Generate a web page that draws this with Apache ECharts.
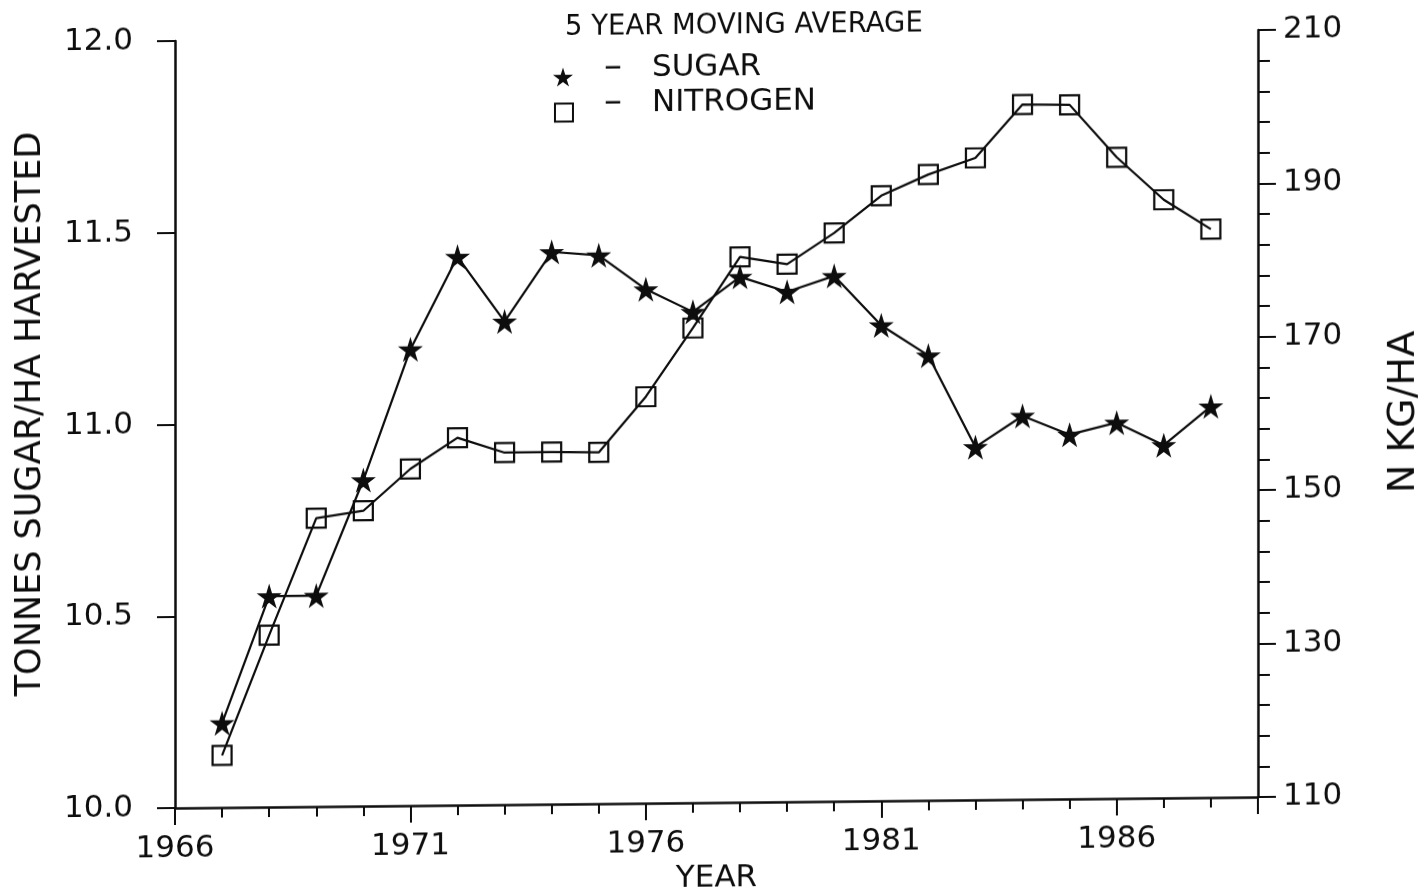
<!DOCTYPE html>
<html>

<head>
  <meta charset="utf-8">
  <title>5 year moving average</title>
  <script src="https://cdn.jsdelivr.net/npm/echarts@6/dist/echarts.min.js"></script>
  <style>
    body { margin: 0; background: #fff; }
    /* the scanned figure is slightly sheared, right side higher */
    #main { width: 1428px; height: 893px; transform: skewY(-0.58deg); transform-origin: 175px 808px; }
  </style>
</head>

<body>
  <div id="main"></div>
  <script type="text/javascript">
    var years = [1967, 1968, 1969, 1970, 1971, 1972, 1973, 1974, 1975, 1976, 1977,
      1978, 1979, 1980, 1981, 1982, 1983, 1984, 1985, 1986, 1987, 1988];
    // tonnes sugar / ha harvested
    var sugar = [10.22, 10.55, 10.55, 10.85, 11.19, 11.43, 11.26, 11.44, 11.43, 11.34, 11.28,
      11.37, 11.33, 11.37, 11.24, 11.16, 10.92, 11.00, 10.95, 10.98, 10.92, 11.02];
    // N kg / ha
    var nitrogen = [116.8, 132.4, 147.6, 148.5, 153.9, 157.9, 155.9, 155.9, 155.8, 163.0, 171.9,
      181.1, 180.1, 184.1, 188.9, 191.6, 193.7, 200.6, 200.5, 193.6, 188.0, 184.1];
    var sugarTicks = [10.0, 10.5, 11.0, 11.5, 12.0];
    var nitrogenTicks = [110, 130, 150, 170, 190, 210];
    var yearTicks = [1966, 1971, 1976, 1981, 1986];

    var ink = '#0d0d0d';
    var font = 'DejaVu Sans';
    var star = 'path://M50,0 L61,35 L98,35 L68,57 L79,91 L50,70 L21,91 L32,57 L2,35 L39,35 Z';

    function pairs(ys) {
      return years.map(function (y, i) { return [y, ys[i]]; });
    }

    // legend text sits a bit above its marker, like the original key
    var legendRich = {
      d: { fontFamily: font, fontSize: 36, color: ink, padding: [0, 30, 17, 26] },
      t: { fontFamily: font, fontSize: 31, color: ink, padding: [0, 0, 17, 0] }
    };

    var myChart = echarts.init(document.getElementById('main'));

    var option = {
      animation: false,
      backgroundColor: '#fff',
      textStyle: { fontFamily: font, color: ink },
      title: {
        text: '5 YEAR MOVING AVERAGE',
        left: 565,
        top: 18,
        padding: 0,
        textStyle: { fontFamily: font, fontSize: 27.5, fontWeight: 'normal', color: ink }
      },
      legend: [
        {
          data: [{ name: 'SUGAR', icon: star }],
          left: 553, top: 54.5, padding: 0,
          itemWidth: 20, itemHeight: 20,
          formatter: function (n) { return '{d|\u2013}{t|' + n + '}'; },
          textStyle: { rich: legendRich }
        },
        {
          data: [{ name: 'NITROGEN', icon: 'rect', itemStyle: { color: 'transparent', borderColor: ink, borderWidth: 2 } }],
          left: 554, top: 90, padding: 0,
          itemWidth: 18, itemHeight: 18,
          formatter: function (n) { return '{d|\u2013}{t|' + n + '}'; },
          textStyle: { rich: legendRich }
        }
      ],
      grid: { left: 175, right: 170, top: 41, bottom: 85, containLabel: false, outerBoundsMode: 'none' },
      xAxis: [
        {
          type: 'value', min: 1966, max: 1989, interval: 1,
          name: 'YEAR', nameLocation: 'middle', nameGap: 50,
          nameTextStyle: { fontFamily: font, fontSize: 31, color: ink },
          axisLine: { lineStyle: { color: ink, width: 2.5 } },
          axisTick: { length: 10, lineStyle: { color: ink, width: 2 } },
          axisLabel: {
            margin: 25, fontFamily: font, fontSize: 31, color: ink, showMaxLabel: false,
            formatter: function (v) { return yearTicks.indexOf(v) >= 0 ? String(v) : ''; }
          },
          splitLine: { show: false }
        },
        {
          type: 'value', min: 1966, max: 1989, interval: 5, position: 'bottom',
          axisLine: { show: false },
          axisTick: { length: 17, lineStyle: { color: ink, width: 2 } },
          axisLabel: { show: false },
          splitLine: { show: false }
        }
      ],
      yAxis: [
        {
          type: 'value', position: 'left', min: 10, max: 12, interval: 0.5,
          name: 'TONNES SUGAR/HA HARVESTED', nameLocation: 'middle', nameGap: 127,
          nameTextStyle: { fontFamily: font, fontSize: 35, color: ink, padding: [0, 0, 0, 24] },
          axisLine: { lineStyle: { color: ink, width: 2.5 } },
          axisTick: { length: 18, lineStyle: { color: ink, width: 2 } },
          axisLabel: {
            margin: 42, fontFamily: font, fontSize: 31, color: ink,
            formatter: function (v) { return sugarTicks.indexOf(v) >= 0 ? v.toFixed(1) : ''; }
          },
          splitLine: { show: false }
        },
        {
          type: 'value', position: 'right', min: 110, max: 210, interval: 20,
          name: 'N KG/HA', nameLocation: 'middle', nameGap: 127, nameRotate: 90,
          nameTextStyle: { fontFamily: font, fontSize: 38, color: ink },
          axisLine: { lineStyle: { color: ink, width: 2.5 } },
          axisTick: { length: 18, lineStyle: { color: ink, width: 2 } },
          minorTick: { show: true, splitNumber: 5, length: 12, lineStyle: { color: ink, width: 2 } },
          axisLabel: {
            margin: 25, fontFamily: font, fontSize: 31, color: ink,
            formatter: function (v) { return nitrogenTicks.indexOf(v) >= 0 ? String(v) : ''; }
          },
          splitLine: { show: false },
          minorSplitLine: { show: false }
        }
      ],
      series: [
        {
          name: 'SUGAR', type: 'line', xAxisIndex: 0, yAxisIndex: 0,
          data: pairs(sugar),
          symbol: star, symbolSize: 25,
          itemStyle: { color: ink },
          lineStyle: { color: ink, width: 2.2 },
          z: 3
        },
        {
          name: 'NITROGEN', type: 'line', xAxisIndex: 0, yAxisIndex: 1,
          data: pairs(nitrogen),
          symbol: 'rect', symbolSize: 19,
          itemStyle: { color: 'transparent', borderColor: ink, borderWidth: 2.2 },
          lineStyle: { color: ink, width: 2.2 },
          z: 2
        }
      ]
    };

    myChart.setOption(option);
  </script>
</body>

</html>
